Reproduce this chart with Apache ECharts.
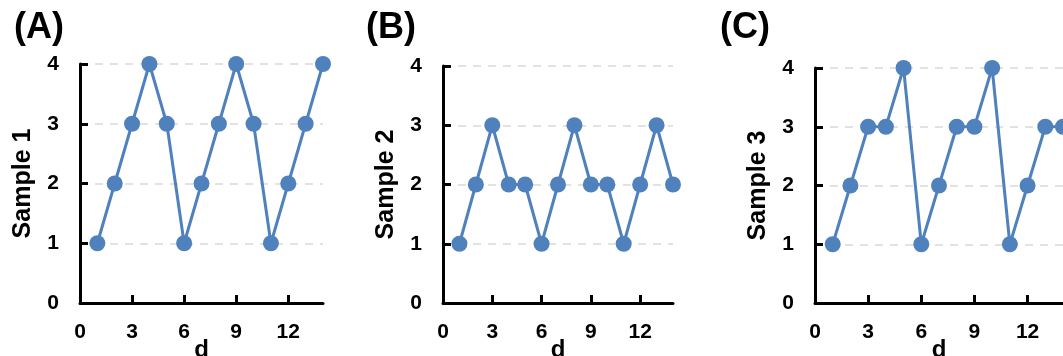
<!DOCTYPE html>
<html>
<head>
<meta charset="utf-8">
<script src="https://cdn.jsdelivr.net/npm/echarts@6/dist/echarts.min.js"></script>
<style>
  html, body { margin: 0; padding: 0; background: #fff; }
  #chart { width: 1063px; height: 356px; }
</style>
</head>
<body>
<div id="chart"></div>
<script>
// data
const days = [1, 2, 3, 4, 5, 6, 7, 8, 9, 10, 11, 12, 13, 14];
const sample1 = [1, 2, 3, 4, 3, 1, 2, 3, 4, 3, 1, 2, 3, 4];
const sample2 = [1, 2, 3, 2, 2, 1, 2, 3, 2, 2, 1, 2, 3, 2];
const sample3 = [1, 2, 3, 3, 4, 1, 2, 3, 3, 4, 1, 2, 3, 3];
const panelLabels = ['(A)', '(B)', '(C)'];
const yNames = ['Sample 1', 'Sample 2', 'Sample 3'];
const xTickLabels = [0, 3, 6, 9, 12];
const xTicks = [3, 6, 9, 12];
const yTickLabels = [0, 1, 2, 3, 4];

const FONT = '"Liberation Sans", Arial, sans-serif';
const BLUE = '#4f81bd';

const grids = [
    { left: 80, top: 64, width: 243, height: 239 },
    { left: 443, top: 66, width: 230, height: 237 },
    { left: 815, top: 68, width: 248, height: 235 }
];
const titleLeft = [9, 361, 715];
const allSamples = [sample1, sample2, sample3];

const chart = echarts.init(document.getElementById('chart'));

const option = {
    animation: false,
    backgroundColor: '#fff',
    title: panelLabels.map((t, i) => ({
        text: t,
        left: titleLeft[i],
        top: 5,
        textStyle: { fontFamily: FONT, fontWeight: 'bold', fontSize: 36, color: '#000' }
    })),
    grid: grids.map(g => Object.assign({ outerBoundsMode: 'none', containLabel: false }, g)),
    xAxis: grids.map((g, i) => ({
        type: 'value',
        gridIndex: i,
        min: 0,
        max: 14,
        interval: 3,
        name: 'd',
        nameLocation: 'middle',
        nameGap: 35,
        nameMoveOverlap: false,
        nameTextStyle: { fontFamily: FONT, fontWeight: 'bold', fontSize: 24, color: '#000' },
        axisLine: { show: true, onZero: false, lineStyle: { color: '#000', width: 3 } },
        axisTick: { show: true, inside: true, length: 8, customValues: xTicks, lineStyle: { color: '#000', width: 3 } },
        axisLabel: {
            customValues: xTickLabels,
            margin: 19,
            fontFamily: FONT, fontWeight: 'bold', fontSize: 21, color: '#000'
        },
        splitLine: { show: false }
    })),
    yAxis: grids.map((g, i) => ({
        type: 'value',
        gridIndex: i,
        min: 0,
        max: 4,
        interval: 1,
        name: yNames[i],
        nameLocation: 'middle',
        nameGap: 44,
        nameMoveOverlap: false,
        nameTextStyle: { fontFamily: FONT, fontWeight: 'bold', fontSize: 25, color: '#000' },
        axisLine: { show: true, lineStyle: { color: '#000', width: 3 } },
        axisTick: { show: true, inside: true, length: 8, lineStyle: { color: '#000', width: 3 } },
        axisLabel: {
            customValues: yTickLabels,
            margin: 21,
            fontFamily: FONT, fontWeight: 'bold', fontSize: 21, color: '#000'
        },
        splitLine: { show: true, lineStyle: { color: '#d9d9d9', width: 1.5, type: [8, 7] } }
    })),
    series: allSamples.map((s, i) => ({
        type: 'line',
        xAxisIndex: i,
        yAxisIndex: i,
        data: days.map((d, k) => [d, s[k]]),
        symbol: 'circle',
        symbolSize: 16,
        clip: false,
        lineStyle: { color: BLUE, width: 3 },
        itemStyle: { color: BLUE }
    }))
};

chart.setOption(option);
window.addEventListener('resize', () => chart.resize());
</script>
</body>
</html>
